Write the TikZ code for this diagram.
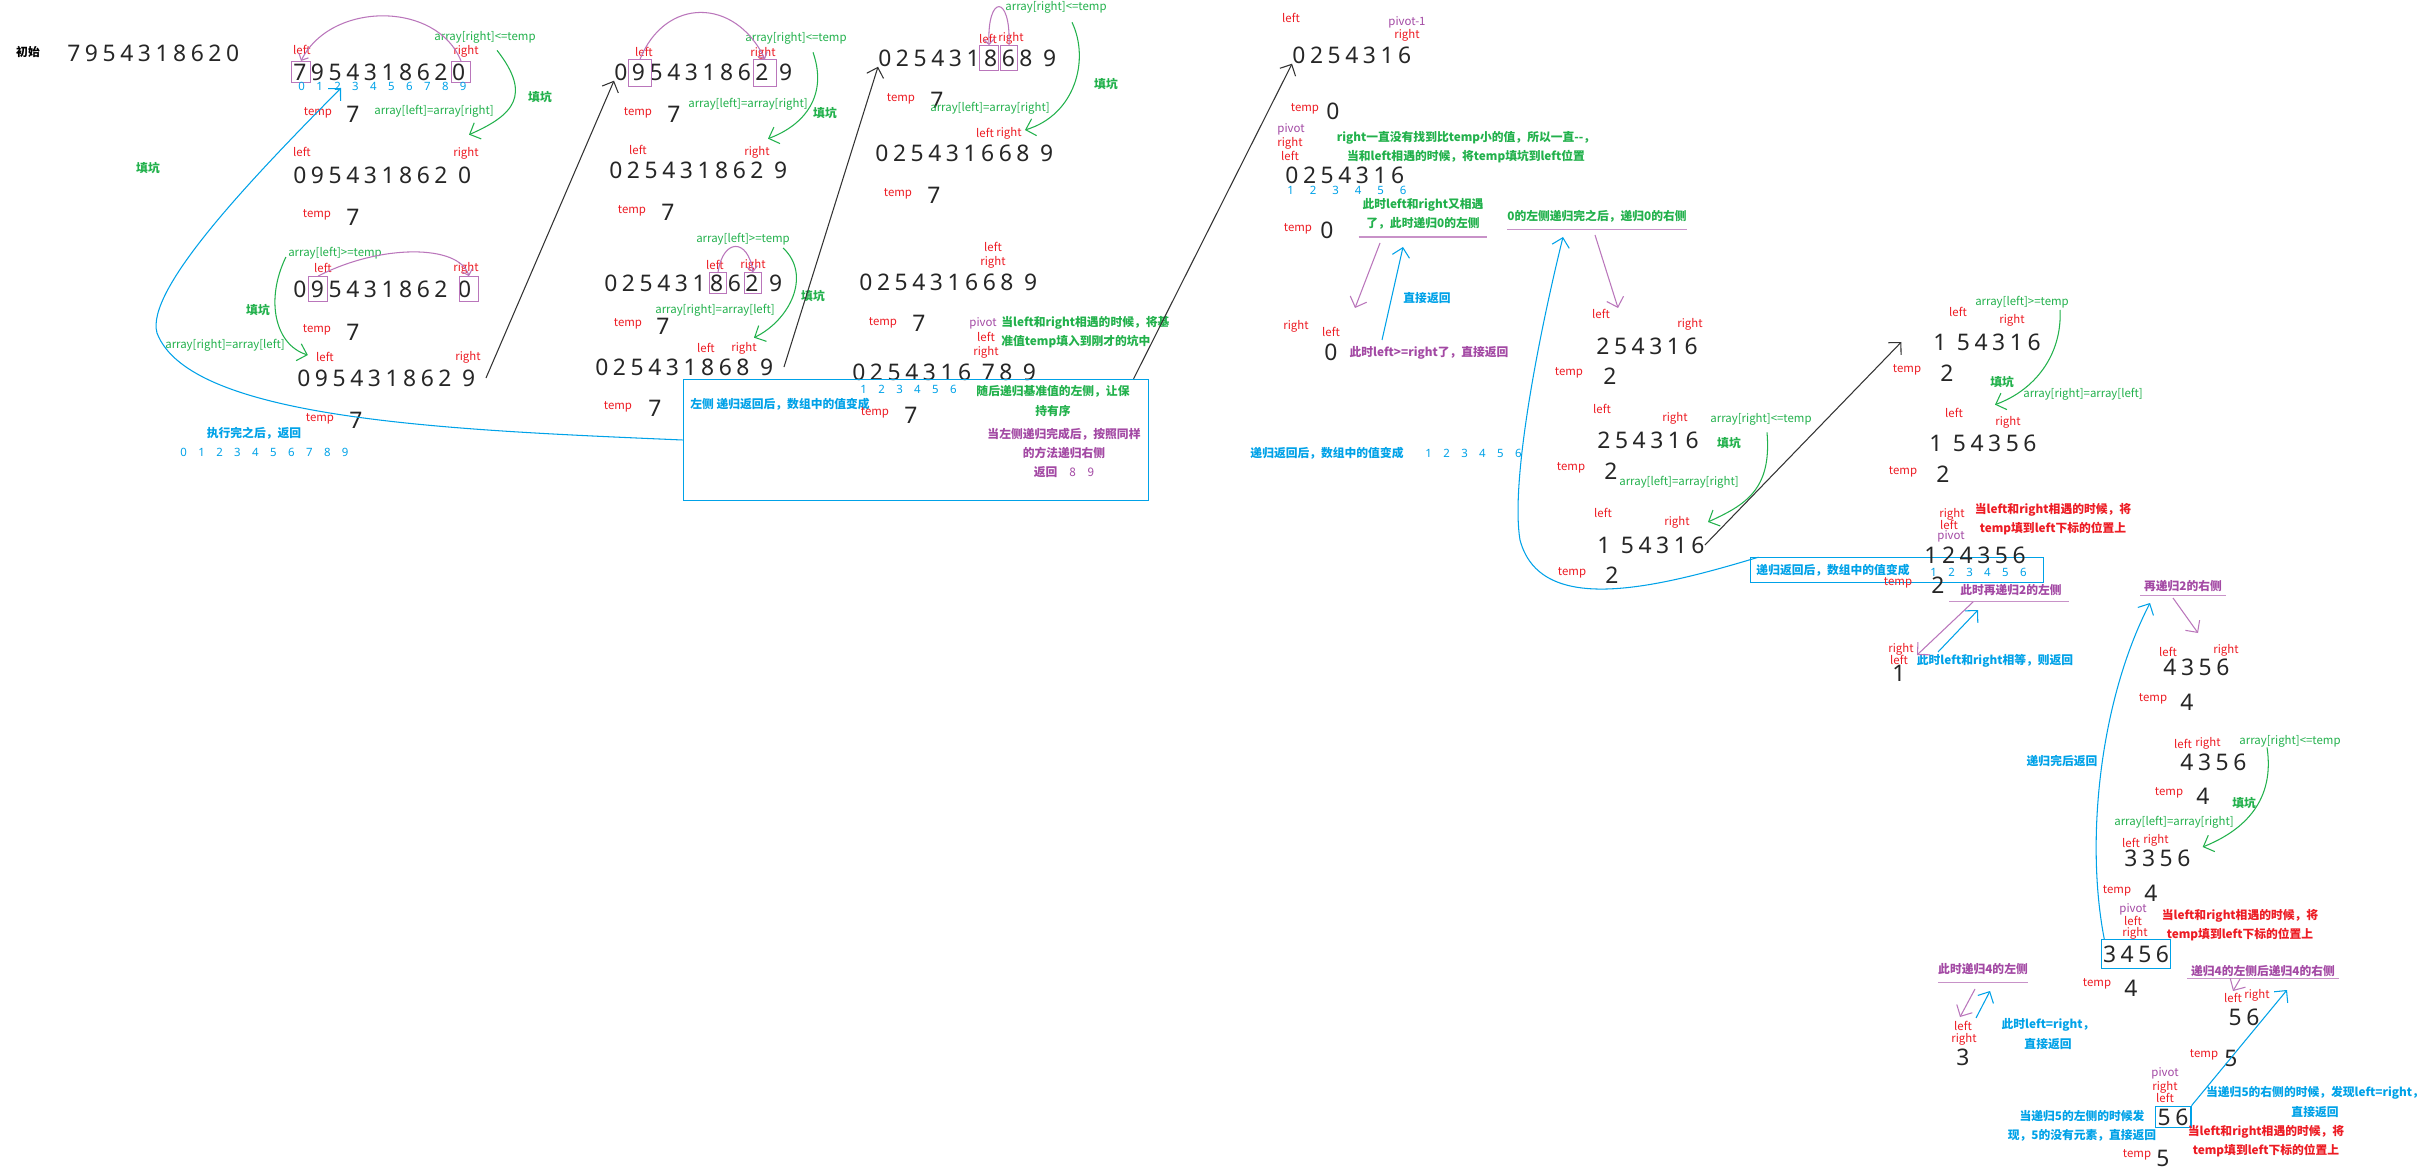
\documentclass[tikz,border=0pt]{standalone}
\usepackage{fontspec}
\setmainfont{Noto Sans CJK SC}
\newfontfamily\numfont[LetterSpace=20]{Noto Sans}
\newfontfamily\valfont{Noto Sans}
\newfontfamily\idxfont[LetterSpace=100]{Noto Sans}
\usepackage{tikz}
\usetikzlibrary{arrows.meta,calc}
\definecolor{qsred}{HTML}{ED1C24}
\definecolor{qsgreen}{HTML}{22B14C}
\definecolor{qspurple}{HTML}{A349A4}
\definecolor{qsblue}{HTML}{00A2E8}

\begin{document}
\begin{tikzpicture}[x=0.2mm, y=-0.2mm,
  num/.style={font=\numfont\fontsize{13}{13}\selectfont, text=black!85, inner sep=0pt, anchor=west},
  val/.style={font=\valfont\fontsize{13}{13}\selectfont, text=black!85, inner sep=0pt},
  idx/.style={font=\idxfont\fontsize{6.5}{7}\selectfont\bfseries, text=qsblue, inner sep=0pt, anchor=west},
  ptr/.style={font=\fontsize{6.5}{7}\selectfont, text=qsred, inner sep=0pt},
  pvt/.style={font=\fontsize{6.5}{7}\selectfont, text=qspurple, inner sep=0pt},
  cond/.style={font=\fontsize{6.5}{7}\selectfont, text=qsgreen, inner sep=0pt},
  note/.style={font=\fontsize{6.7}{11}\selectfont\bfseries, text=#1, inner sep=0pt, align=center},
  hl/.style={draw=qspurple!75, line width=0.6pt, minimum width=11pt, minimum height=13pt, inner sep=0pt},
  swap/.style={draw=qspurple!75, line width=0.6pt, -{Straight Barb[length=3pt,width=6pt]}},
  fillarr/.style={draw=qsgreen, line width=0.6pt, -{Straight Barb[length=5pt,width=10pt]}},
  jump/.style={draw=black!80, line width=0.6pt, -{Straight Barb[length=5pt,width=10pt]}},
  back/.style={draw=qsblue, line width=0.6pt, -{Straight Barb[length=5pt,width=10pt]}},
  recur/.style={draw=qspurple!75, line width=0.6pt, -{Straight Barb[length=5pt,width=10pt]}},
  uline/.style={draw=qspurple!60, line width=0.6pt},
  panel/.style={draw=qsblue, line width=0.6pt, inner sep=0pt}
]
\fill[white] (0,0) rectangle (2425,1174);
\useasboundingbox (0,0) rectangle (2425,1174);

% Start
\node[note=black] (init) at (28,52) {初始};
\node[num] (r0) at (67,53) {7954318620};
\node[note=qsgreen] (k0) at (148,168) {填坑};

% Column A
\node[ptr] (lA1) at (302,50) {left};
\node[ptr] (rA1) at (466,51) {right};
\node[num] (a1) at (293,72) {7954318620};
\node[hl, minimum height=12pt] (bA1l) at (301,72) {};
\node[hl, minimum height=12pt] (bA1r) at (461,72) {};
\node[idx] (ia1) at (298,86) {0123456789};
\node[cond] (cA1) at (485,37) {array[right]<=temp};
\node[ptr] (tA1) at (318,113) {temp};
\node[val] (vA1) at (353,114) {7};
\node[cond] (sA1) at (434,111) {array[left]=array[right]};
\node[note=qsgreen] (kA1) at (540,97) {填坑};

\node[ptr] (lA2) at (302,152) {left};
\node[ptr] (rA2) at (466,153) {right};
\node[num] (a2) at (293,175) {095431862 0};
\node[ptr] (tA2) at (317,215) {temp};
\node[val] (vA2) at (353,217) {7};

\node[cond] (cA3) at (335,253) {array[left]>=temp};
\node[ptr] (lA3) at (323,268) {left};
\node[ptr] (rA3) at (466,268) {right};
\node[num] (a3) at (293,289) {095431862 0};
\node[hl, minimum height=14pt] (bA3l) at (318,289) {};
\node[hl, minimum height=14pt] (bA3r) at (469,289) {};
\node[note=qsgreen] (kA3) at (258,310) {填坑};
\node[ptr] (tA3) at (317,330) {temp};
\node[val] (vA3) at (353,332) {7};
\node[cond] (sA3) at (225,345) {array[right]=array[left]};

\node[ptr] (lA4) at (325,357) {left};
\node[ptr] (rA4) at (468,357) {right};
\node[num] (a4) at (297,378) {095431862 9};
\node[ptr] (tA4) at (320,419) {temp};
\node[val] (vA4) at (356,420) {7};
\node[note=qsblue] (nA) at (254,433) {执行完之后，返回};
\node[idx] (iret) at (180,452) {0123456789};

% Column B
\node[ptr] (lB1) at (644,52) {left};
\node[ptr] (rB1) at (763,53) {right};
\node[num] (b1) at (614,72) {095431862 9};
\node[hl, minimum width=13pt, minimum height=15pt] (bB1l) at (640,73) {};
\node[hl, minimum width=13pt, minimum height=15pt] (bB1r) at (765,73) {};
\node[cond] (cB1) at (796,38) {array[right]<=temp};
\node[ptr] (tB1) at (638,113) {temp};
\node[val] (vB1) at (674,114) {7};
\node[cond] (sB1) at (748,104) {array[left]=array[right]};
\node[note=qsgreen] (kB1) at (825,113) {填坑};

\node[ptr] (lB2) at (638,150) {left};
\node[ptr] (rB2) at (757,152) {right};
\node[num] (b2) at (609,170) {025431862 9};
\node[ptr] (tB2) at (632,211) {temp};
\node[val] (vB2) at (668,212) {7};

\node[cond] (cB2) at (743,239) {array[left]>=temp};
\node[ptr] (lB3) at (715,265) {left};
\node[ptr] (rB3) at (753,265) {right};
\node[num] (b3) at (604,283) {025431862 9};
\node[hl, minimum width=10pt, minimum height=11.5pt] (bB3l) at (718,283) {};
\node[hl, minimum width=10pt, minimum height=11.5pt] (bB3r) at (753,283) {};
\node[note=qsgreen] (kB3) at (813,296) {填坑};
\node[cond] (sB3) at (715,310) {array[right]=array[left]};
\node[ptr] (tB3) at (628,324) {temp};
\node[val] (vB3) at (663,326) {7};

\node[ptr] (lB4) at (706,348) {left};
\node[ptr] (rB4) at (744,348) {right};
\node[num] (b4) at (595,367) {025431868 9};
\node[ptr] (tB4) at (618,407) {temp};
\node[val] (vB4) at (655,408) {7};

% Column C
\node[ptr] (lC1) at (988,39) {left};
\node[ptr] (rC1) at (1011,38) {right};
\node[num] (c1) at (878,58) {025431868 9};
\node[hl, minimum width=10.5pt, minimum height=14pt] (bC1l) at (989,58) {};
\node[hl, minimum width=10pt, minimum height=14pt] (bC1r) at (1009,58) {};
\node[cond] (cC1) at (1056,7) {array[right]<=temp};
\node[note=qsgreen] (kC1) at (1106,84) {填坑};
\node[ptr] (tC1) at (901,99) {temp};
\node[val] (vC1) at (937,100) {7};
\node[cond] (sC1) at (990,108) {array[left]=array[right]};

\node[ptr] (lC2) at (985,133) {left};
\node[ptr] (rC2) at (1009,133) {right};
\node[num] (c2) at (875,153) {025431668 9};
\node[ptr] (tC2) at (898,194) {temp};
\node[val] (vC2) at (934,195) {7};

\node[ptr] (lC3) at (993,247) {left};
\node[ptr] (rC3) at (993,262) {right};
\node[num] (c3) at (859,282) {025431668 9};
\node[ptr] (tC3) at (883,323) {temp};
\node[val] (vC3) at (919,323) {7};
\node[pvt] (pC3) at (983,323) {pivot};
\node[note=qsgreen, align=left, anchor=west] (nC3) at (1001,332) {当left和right相遇的时候，将基\\准值temp填入到刚才的坑中};
\node[ptr] (lC4) at (986,337) {left};
\node[ptr] (rC4) at (986,352) {right};
\node[num] (c4) at (852,372) {0254316 78 9};

% Summary panel
\node[panel, minimum width=265pt, minimum height=69pt] (sumbox) at (916,440) {};
\node[note=qsblue] (nBx1) at (780,404) {左侧 递归返回后，数组中的值变成};
\node[idx] (ibox) at (860,389) {123456};
\node[ptr] (tBx) at (875,413) {temp};
\node[val] (vBx) at (911,415) {7};
\node[note=qsgreen] (nBx2) at (1053,401) {随后递归基准值的左侧，让保\\持有序};
\node[note=qspurple] (nBx3) at (1064,453) {当左侧递归完成后，按照同样\\的方法递归右侧\\返回\quad{\mdseries 8}\quad{\mdseries 9}};

% Column D
\node[ptr] (lD1) at (1291,18) {left};
\node[pvt] (pD1) at (1407,22) {pivot-1};
\node[ptr] (rD1) at (1407,35) {right};
\node[num] (d1) at (1292,55) {0254316};
\node[ptr] (tD1) at (1305,109) {temp};
\node[val] (vD1) at (1333,111) {0};
\node[pvt] (pD2) at (1291,129) {pivot};
\node[ptr] (rD2) at (1290,143) {right};
\node[ptr] (lD2) at (1290,156) {left};
\node[note=qsgreen] (nD1) at (1466,147) {right一直没有找到比temp小的值，所以一直-{}-，\\当和left相遇的时候，将temp填坑到left位置};
\node[num] (d2) at (1285,175) {0254316};
\node[idx, font=\idxfont\fontsize{6.5}{7}\selectfont\bfseries\addfontfeature{LetterSpace=140}] (id2) at (1287,190) {123456};
\node[ptr] (tD2) at (1298,229) {temp};
\node[val] (vD2) at (1327,230) {0};
\node[note=qsgreen] (nD2) at (1423,214) {此时left和right又相遇\\了，此时递归0的左侧};
\node[note=qsblue] (nD4) at (1427,298) {直接返回};
\node[ptr] (rD3) at (1296,326) {right};
\node[ptr] (lD3) at (1331,332) {left};
\node[val] (vD3) at (1331,352) {0};
\node[note=qspurple] (nD3) at (1429,353) {此时left>=right了，直接返回};
\node[note=qsblue] (nD5) at (1327,453) {递归返回后，数组中的值变成};
\node[idx] (id3) at (1425,453) {123456};
\node[note=qsgreen] (n0r) at (1597,216) {0的左侧递归完之后，递归0的右侧};

% Column E
\node[ptr] (lE1) at (1601,314) {left};
\node[ptr] (rE1) at (1690,324) {right};
\node[num] (e1) at (1596,346) {254316};
\node[ptr] (tE1) at (1569,373) {temp};
\node[val] (vE1) at (1610,376) {2};
\node[ptr] (lE2) at (1602,409) {left};
\node[ptr] (rE2) at (1675,418) {right};
\node[cond] (cE2) at (1761,419) {array[right]<=temp};
\node[num] (e2) at (1597,440) {254316};
\node[note=qsgreen] (kE2) at (1729,443) {填坑};
\node[ptr] (tE2) at (1571,468) {temp};
\node[val] (vE2) at (1611,471) {2};
\node[cond] (sE2) at (1679,482) {array[left]=array[right]};
\node[ptr] (lE3) at (1603,513) {left};
\node[ptr] (rE3) at (1677,522) {right};
\node[num] (e3) at (1597,545) {1 54316};
\node[ptr] (tE3) at (1572,573) {temp};
\node[val] (vE3) at (1612,575) {2};
\node[panel, minimum width=167pt, minimum height=14pt] (box2) at (1897,570) {};
\node[note=qsblue] (nE) at (1833,570) {递归返回后，数组中的值变成};

% Column F
\node[cond] (cF1) at (2022,302) {array[left]>=temp};
\node[ptr] (lF1) at (1958,312) {left};
\node[ptr] (rF1) at (2012,320) {right};
\node[num] (f1) at (1933,342) {1 54316};
\node[ptr] (tF1) at (1907,370) {temp};
\node[val] (vF1) at (1947,373) {2};
\node[note=qsgreen] (kF1) at (2002,382) {填坑};
\node[cond] (sF1) at (2083,394) {array[right]=array[left]};
\node[ptr] (lF2) at (1954,413) {left};
\node[ptr] (rF2) at (2008,422) {right};
\node[num] (f2) at (1929,443) {1 54356};
\node[ptr] (tF2) at (1903,472) {temp};
\node[val] (vF2) at (1943,474) {2};
\node[note=qsred] (nF) at (2053,519) {当left和right相遇的时候，将\\temp填到left下标的位置上};
\node[ptr] (rF3) at (1952,514) {right};
\node[ptr] (lF3) at (1949,525) {left};
\node[pvt] (pF3) at (1951,536) {pivot};
\node[num] (f3) at (1924,555) {124356};
\node[idx] (if3) at (1930,572) {123456};
\node[ptr] (tF3) at (1898,583) {temp};
\node[val] (vF3) at (1938,585) {2};
\node[note=qspurple] (nF3) at (2011,590) {此时再递归2的左侧};
\node[ptr] (rF4) at (1901,649) {right};
\node[ptr] (lF4) at (1899,660) {left};
\node[val] (vF4) at (1899,673) {1};
\node[note=qsblue] (nF4) at (1995,661) {此时left和right相等，则返回};

% Column G
\node[note=qspurple] (nG) at (2183,586) {再递归2的右侧};
\node[ptr] (lG1) at (2168,652) {left};
\node[ptr] (rG1) at (2226,650) {right};
\node[num] (g1) at (2163,667) {4356};
\node[ptr] (tG1) at (2153,699) {temp};
\node[val] (vG1) at (2187,702) {4};
\node[ptr] (lG2) at (2183,744) {left};
\node[ptr] (rG2) at (2208,743) {right};
\node[cond] (cG2) at (2290,741) {array[right]<=temp};
\node[num] (g2) at (2180,762) {4356};
\node[ptr] (tG2) at (2169,793) {temp};
\node[val] (vG2) at (2203,796) {4};
\node[note=qsgreen] (kG2) at (2244,803) {填坑};
\node[cond] (sG2) at (2174,822) {array[left]=array[right]};
\node[note=qsblue] (nGb) at (2062,761) {递归完后返回};
\node[ptr] (lG3) at (2131,843) {left};
\node[ptr] (rG3) at (2156,840) {right};
\node[num] (g3) at (2124,858) {3356};
\node[ptr] (tG3) at (2117,891) {temp};
\node[val] (vG3) at (2151,893) {4};
\node[pvt] (pG4) at (2133,909) {pivot};
\node[ptr] (lG4) at (2133,921) {left};
\node[ptr] (rG4) at (2135,933) {right};
\node[note=qsred] (nG3) at (2240,925) {当left和right相遇的时候，将\\temp填到left下标的位置上};
\node[num, draw=qsblue, line width=0.6pt, inner xsep=1pt, inner ysep=3.5pt, anchor=center] (g4) at (2136,954) {3456};
\node[ptr] (tG4) at (2097,984) {temp};
\node[val] (vG4) at (2131,988) {4};

% Column H
\node[note=qspurple] (nH1) at (1983,969) {此时递归4的左侧};
\node[ptr] (lH1) at (1963,1026) {left};
\node[ptr] (rH1) at (1964,1039) {right};
\node[val] (vH1) at (1963,1057) {3};
\node[note=qsblue] (nH1b) at (2048,1034) {此时left=right，\\直接返回};
\node[note=qspurple] (nH2) at (2263,971) {递归4的左侧后递归4的右侧};
\node[ptr] (lH2) at (2233,998) {left};
\node[ptr] (rH2) at (2257,995) {right};
\node[num, anchor=center] (h1) at (2244,1017) {56};
\node[ptr] (tH1) at (2204,1055) {temp};
\node[val] (vH1b) at (2231,1058) {5};
\node[pvt] (pH) at (2165,1073) {pivot};
\node[ptr] (rH) at (2165,1087) {right};
\node[ptr] (lH) at (2165,1098) {left};
\node[num, draw=qsblue, line width=0.6pt, inner xsep=1.5pt, inner ysep=1.4pt, anchor=center] (h2) at (2173,1117) {56};
\node[note=qsblue] (nH3) at (2315,1102) {当递归5的右侧的时候，发现left=right，\\直接返回};
\node[note=qsred] (nH4) at (2266,1141) {当left和right相遇的时候，将\\temp填到left下标的位置上};
\node[note=qsblue] (nH5) at (2082,1126) {当递归5的左侧的时候发\\现，5的没有元素，直接返回};
\node[ptr] (tH2) at (2137,1155) {temp};
\node[val] (vH2) at (2163,1158) {5};

% Free ends
\coordinate (ret1) at (341,88);
\coordinate (ret2) at (1563,237);
\coordinate (ret3) at (2150,603);
\coordinate (dl0) at (1380,243); \coordinate (dl1) at (1355,308);
\coordinate (db0) at (1382,340); \coordinate (db1) at (1403,247);
\coordinate (er0) at (1595,235); \coordinate (er1) at (1618,308);
\coordinate (fl0) at (1973,602); \coordinate (fl1) at (1917,655);
\coordinate (fb0) at (1938,652); \coordinate (fb1) at (1978,610);
\coordinate (gr0) at (2173,598); \coordinate (gr1) at (2198,633);
\coordinate (hl0) at (1975,989); \coordinate (hl1) at (1960,1017);
\coordinate (hb0) at (1976,1018); \coordinate (hb1) at (1990,991);
\coordinate (hr0) at (2240,979); \coordinate (hr1) at (2233,991);
\coordinate (hb3) at (2287,990);

% Underlines
\draw[uline] ([xshift=-2pt,yshift=-4pt]nD2.south west) -- ([xshift=2pt,yshift=-4pt]nD2.south east);
\draw[uline] ([yshift=-4pt]n0r.south west) -- ([yshift=-4pt]n0r.south east);
\draw[uline] ([xshift=-6pt,yshift=-3pt]nF3.south west) -- ([xshift=4pt,yshift=-3pt]nF3.south east);
\draw[uline] ([xshift=-2pt,yshift=-2pt]nG.south west) -- ([xshift=2pt,yshift=-2pt]nG.south east);
\draw[uline] ([yshift=-4pt]nH1.south west) -- ([yshift=-4pt]nH1.south east);
\draw[uline] ([xshift=-2pt,yshift=-1pt]nH2.south west) -- ([xshift=2pt,yshift=-1pt]nH2.south east);

% Swaps
\draw[swap] (bA1r.north) .. controls (437,1) and (331,1) .. (bA1l.north);
\draw[swap] (bA3l.north) .. controls (380,244) and (459,244) .. (bA3r.north);
\draw[swap] (bB1l.north) .. controls (665,-3) and (735,-3) .. (bB1r.north);
\draw[swap] (bB3l.north) .. controls (723,238) and (748,238) .. (bB3r.north);
\draw[swap] (bC1r.north) .. controls (1011,-6) and (987,-6) .. (bC1l.north);

% Fill the pit
\draw[fillarr] ($(cA1.south)+(12,7)$) .. controls (532,95) and (514,115) .. ($(rA2.north)+(3,-12)$);
\draw[fillarr] ($(cA3.west)+(-2,4)$) .. controls (265,300) and (275,345) .. ($(lA4.west)+(-8,-2)$);
\draw[fillarr] ($(cB1.south)+(17,8)$) .. controls (828,95) and (805,125) .. ($(rB2.north)+(11,-7)$);
\draw[fillarr] ($(cB2.east)+(-7,9)$) .. controls (812,275) and (790,320) .. ($(rB4.north)+(10,-4)$);
\draw[fillarr] ($(cC1.south)+(16,9)$) .. controls (1090,60) and (1075,115) .. ($(rC2.east)+(3,-3)$);
\draw[fillarr] ($(cE2.south)+(6,7)$) .. controls (1772,490) and (1745,505) .. ($(rE3.east)+(18,0)$);
\draw[fillarr] ($(cF1.east)+(-9,8)$) .. controls (2062,355) and (2035,390) .. ($(rF2.north)+(-13,-11)$);
\draw[fillarr] ($(cG2.south)+(-23,0)$) .. controls (2275,800) and (2245,830) .. ($(g3.east)+(12,-11)$);

% Next step
\draw[jump] ([xshift=6pt]a4.east) -- (b1.south west);
\draw[jump] ([xshift=6pt]b4.east) -- (c1.south west);
\draw[jump] ([xshift=-9pt]sumbox.north east) -- (d1.south west);
\draw[jump] (e3.east) -- ([xshift=-18pt]f1.west);

% Returns
\draw[back] (sumbox.west) .. controls (450,430) and (190,420) .. (157,333) .. controls (145,290) and (250,180) .. (ret1);
\draw[back] ([xshift=5pt]box2.north west) .. controls (1650,590) and (1540,615) .. (1520,540) .. controls (1510,480) and (1540,330) .. (ret2);
\draw[back] ([xshift=2pt]g4.north west) .. controls (2085,840) and (2100,700) .. (ret3);
\draw[back] (db0) -- (db1);
\draw[back] (fb0) -- (fb1);
\draw[back] (hb0) -- (hb1);
\draw[back] (h2.north east) -- (hb3);

% Recursive calls
\draw[recur] (dl0) -- (dl1);
\draw[recur] (er0) -- (er1);
\draw[recur] (fl0) -- (fl1);
\draw[recur] (gr0) -- (gr1);
\draw[recur] (hl0) -- (hl1);
\draw[recur] (hr0) -- (hr1);

\end{tikzpicture}
\end{document}
